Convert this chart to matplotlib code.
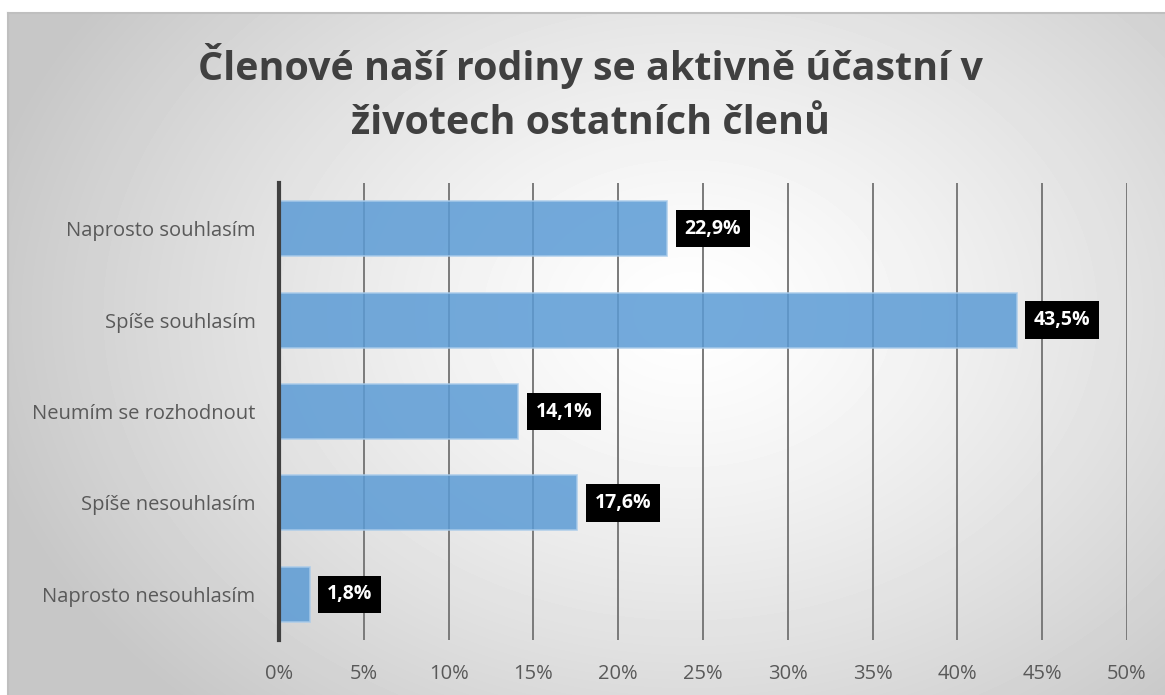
import numpy as np
import matplotlib.pyplot as plt
from matplotlib.ticker import MultipleLocator, FuncFormatter

# data
categories = ["Naprosto souhlasím", "Spíše souhlasím", "Neumím se rozhodnout",
              "Spíše nesouhlasím", "Naprosto nesouhlasím"]
values = [22.9, 43.5, 14.1, 17.6, 1.8]
title = "Členové naší rodiny se aktivně účastní v\nživotech ostatních členů"

plt.rcParams["font.family"] = ["Open Sans", "DejaVu Sans"]

fig = plt.figure(figsize=(11.65, 6.95), dpi=100)
fig.patch.set_facecolor("white")

# radial gradient background of the chart frame
bg = fig.add_axes([8 / 1165, 0, 1 - 8 / 1165, 1 - 13 / 695], zorder=0)
yy, xx = np.mgrid[0:682, 0:1157]
cx, cy = 680, 300
r = np.sqrt(((xx - cx) / 1.0) ** 2 + ((yy - cy) / 0.75) ** 2)
r = np.clip(r / 720, 0, 1)
shade = 1.0 - 0.22 * r ** 1.3
bg.imshow(shade, cmap="gray", vmin=0, vmax=1, aspect="auto",
          extent=[0, 1, 0, 1], origin="upper")
bg.set_xticks([])
bg.set_yticks([])
for side in ["right", "bottom"]:
    bg.spines[side].set_visible(False)
for side in ["top", "left"]:
    bg.spines[side].set_color("#bfbfbf")
    bg.spines[side].set_linewidth(1.5)

ax = fig.add_axes([279 / 1165, 55 / 695, (1127 - 279) / 1165, (640 - 183) / 695], zorder=1)
ax.patch.set_alpha(0)

y = np.arange(len(categories))
ax.barh(y, values, height=0.6, color="#5b9bd5", alpha=0.85,
        edgecolor="#a9cbea", linewidth=1.2, zorder=3)

ax.set_xlim(0, 50)
ax.set_ylim(len(categories) - 0.5, -0.5)
ax.xaxis.set_major_locator(MultipleLocator(5))
ax.xaxis.set_major_formatter(FuncFormatter(lambda v, p: f"{v:.0f}%"))
ax.set_yticks(y)
ax.set_yticklabels(categories)
ax.tick_params(axis="both", length=0, labelsize=14.5, colors="#595959")
ax.tick_params(axis="x", pad=17)
ax.tick_params(axis="y", pad=17)

ax.grid(axis="x", color="#7a7a7a", linewidth=1.4, zorder=1)
ax.set_axisbelow(False)
for side in ["top", "right", "bottom"]:
    ax.spines[side].set_visible(False)
ax.spines["left"].set_color("#404040")
ax.spines["left"].set_linewidth(3)
ax.spines["left"].set_zorder(4)

for yi, v in zip(y, values):
    ax.annotate(f"{v:.1f}%".replace(".", ","), xy=(v, yi), xytext=(12.5, 0),
                textcoords="offset points", va="center", ha="left",
                color="white", fontsize=14, fontweight="bold", zorder=5,
                bbox=dict(boxstyle="square,pad=0.45", fc="black", ec="none"))

fig.text(0.507, 1 - 93 / 695, title, ha="center", va="center",
         fontsize=28.4, fontweight="bold", color="#404040", linespacing=1.5)

fig.savefig("out.png", dpi=100)
